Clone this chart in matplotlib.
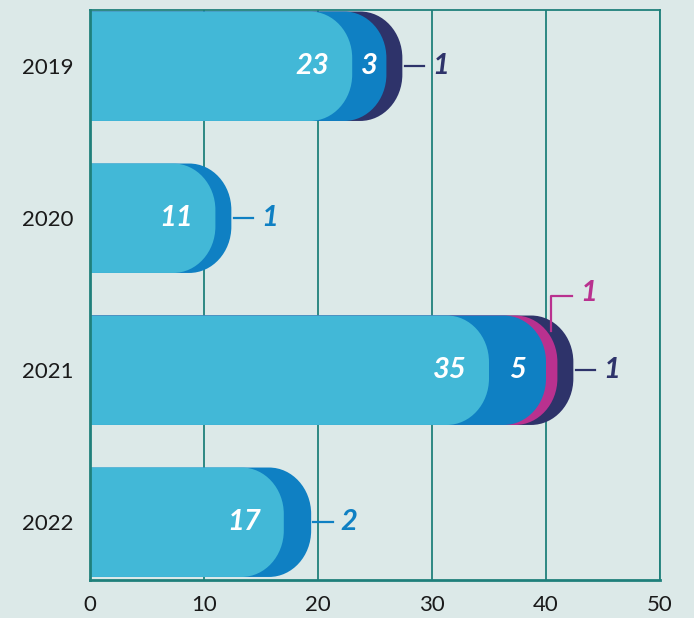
import numpy as np
import matplotlib.pyplot as plt
from matplotlib.path import Path
from matplotlib.patches import PathPatch

years = ["2019", "2020", "2021", "2022"]
# segment values per year, in stacking order (light, blue, magenta, navy)
light = [23, 11, 35, 17]
blue = [3, 1, 5, 2]
magenta = [0, 0, 1, 0]
navy = [1, 0, 1, 0]
xticks = [0, 10, 20, 30, 40, 50]

bg = "#dce9e8"
grid_col = "#1f807b"
colors = ["#42b8d7", "#0f80c3", "#b9318f", "#2e336a"]

plt.rcParams['font.family'] = ['Lato', 'DejaVu Sans']

fig = plt.figure(figsize=(6.94, 6.18), dpi=100)
fig.patch.set_facecolor(bg)
ax = fig.add_axes([90 / 694, 38 / 618, 570 / 694, 570 / 618])
ax.set_facecolor(bg)

ax.set_xlim(0, 50)
ax.set_ylim(3.38, -0.37)
ax.set_xticks(xticks)
ax.set_yticks(range(len(years)))
ax.set_yticklabels(years)
ax.tick_params(length=0, labelsize=16, colors="#1a1a1a")
ax.tick_params(axis="y", pad=12)
ax.tick_params(axis="x", pad=11)
ax.grid(axis="x", color=grid_col, linewidth=1.3, zorder=0)
ax.set_axisbelow(True)
for s in ax.spines.values():
    s.set_color(grid_col)
    s.set_linewidth(1.3)
ax.spines["left"].set_linewidth(2)
ax.spines["bottom"].set_linewidth(2)

h = 0.72
rx = 3.7
ry = h / 2 * 0.85
k = 0.5523
pad = 0.4  # outer cap sticks out a little past the total


def rounded_bar(x1, yc, color):
    y0, y1 = yc - h / 2, yc + h / 2
    r = min(rx, x1)
    verts = [(0, y0), (x1 - r, y0),
             (x1 - r + k * r, y0), (x1, y0 + ry - k * ry), (x1, y0 + ry),
             (x1, y1 - ry),
             (x1, y1 - ry + k * ry), (x1 - r + k * r, y1), (x1 - r, y1),
             (0, y1), (0, y0)]
    codes = [Path.MOVETO, Path.LINETO,
             Path.CURVE4, Path.CURVE4, Path.CURVE4,
             Path.LINETO,
             Path.CURVE4, Path.CURVE4, Path.CURVE4,
             Path.LINETO, Path.CLOSEPOLY]
    ax.add_patch(PathPatch(Path(verts, codes), facecolor=color, edgecolor="none", zorder=2))


lab = dict(fontsize=21, fontweight="bold", fontstyle="italic", va="center", zorder=5)

for i, yr in enumerate(years):
    segs = [light[i], blue[i], magenta[i], navy[i]]
    cum = np.cumsum(segs).astype(float)
    last = max(j for j in range(4) if segs[j] > 0)
    cum[last] += pad
    # draw outer (largest) first so inner shapes sit on top
    for j in range(3, -1, -1):
        if segs[j] > 0:
            rounded_bar(cum[j], i, colors[j])
    # inside labels
    ax.text(cum[0] - 2.0, i, str(light[i]), ha="right", color="white", **lab)
    if last > 1:
        ax.text((cum[0] + cum[1]) / 2, i, str(blue[i]), ha="center", color="white", **lab)
    # outside label for the last segment
    end = cum[last]
    ax.plot([end + 0.2, end + 1.9], [i, i], color=colors[last], lw=1.6, zorder=4)
    ax.text(end + 2.6, i, str(segs[last]), ha="left", color=colors[last], **lab)

# magenta call-out for 2021
mx = light[2] + blue[2] + 0.4
ax.plot([mx, mx, mx + 1.9], [1.74, 1.513, 1.513], color=colors[2], lw=1.6, zorder=4)
ax.text(mx + 2.6, 1.49, str(magenta[2]), ha="left", color=colors[2], **lab)

fig.savefig("out.png", dpi=100, facecolor=bg)
